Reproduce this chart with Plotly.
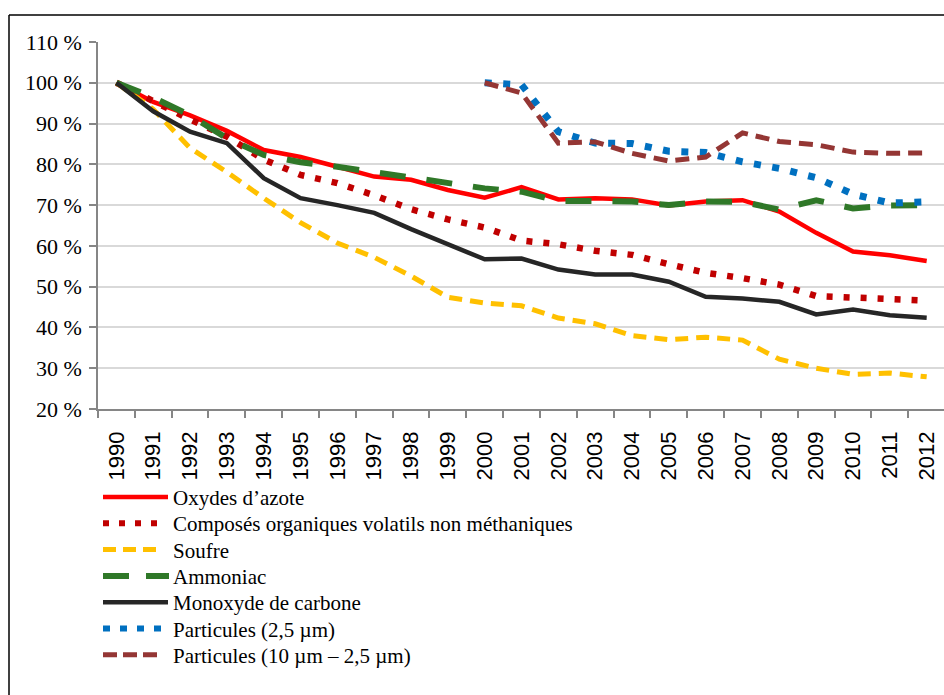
import plotly.graph_objects as go

years = [str(y) for y in range(1990, 2013)]

nox = [100, 95.3, 92.0, 88.2, 83.5, 81.8, 79.4, 77.0, 76.2, 73.7, 71.8, 74.4,
       71.4, 71.7, 71.4, 69.9, 70.9, 71.2, 68.4, 63.2, 58.6, 57.7, 56.3]
covnm = [100, 95.3, 91.0, 86.8, 81.2, 77.4, 75.4, 72.4, 69.0, 66.5, 64.5, 61.3,
         60.4, 58.8, 57.8, 55.5, 53.4, 52.1, 50.5, 47.7, 47.3, 46.7, 46.6]
soufre = [100, 93.5, 84.0, 78.1, 71.7, 65.7, 60.7, 57.2, 52.6, 47.4, 46.0, 45.3,
          42.3, 40.9, 38.0, 37.0, 37.6, 36.9, 32.2, 30.0, 28.5, 28.8, 27.9]
ammoniac = [100, 96.4, 92.0, 86.4, 82.3, 80.5, 79.4, 78.1, 76.7, 75.4, 74.1, 73.3,
            71.0, 71.0, 70.9, 70.0, 70.9, 70.8, 68.9, 71.2, 69.2, 69.9, 70.0]
co = [100, 93.0, 88.0, 85.2, 76.6, 71.7, 70.0, 68.1, 64.1, 60.3, 56.7, 56.9,
      54.2, 53.0, 53.0, 51.2, 47.5, 47.1, 46.3, 43.2, 44.4, 43.0, 42.4]
pm25 = [None] * 10 + [100, 99.5, 88.0, 85.2, 85.1, 83.2, 82.9, 80.6, 79.0, 76.7,
                      72.7, 70.5, 70.8]
pm10 = [None] * 10 + [100, 97.5, 85.2, 85.5, 82.7, 80.8, 81.8, 87.7, 85.6, 84.8,
                      83.0, 82.7, 82.8]

y_ticks = list(range(20, 111, 10))
y_tick_text = [f"{v} %" for v in y_ticks]

names = ["Oxydes d\u2019azote",
         "Compos\u00e9s organiques volatils non m\u00e9thaniques",
         "Soufre", "Ammoniac", "Monoxyde de carbone",
         "Particules (2,5 \u00b5m)", "Particules (10 \u00b5m \u2013 2,5 \u00b5m)"]
series = [nox, covnm, soufre, ammoniac, co, pm25, pm10]
colors = ["#FF0000", "#C00000", "#FFC000", "#2F7828", "#262626", "#0070C0", "#943634"]
widths = [4.5, 6.5, 5, 6, 4.5, 7, 5]
dashes = ["solid", "6px,11px", "13px,8px", "26px,21px", "solid", "7px,11.5px", "14px,8px"]
legend_dashes = ["solid", "6px,10px", "13px,7px", "26px,17px", "solid", "7px,10px", "14px,6px"]
legend_len = [65, 54, 58, 66, 65, 58, 58]

fig = go.Figure()
for n, s, c, w, d in zip(names, series, colors, widths, dashes):
    fig.add_trace(go.Scatter(x=years, y=s, name=n, mode="lines",
                             line=dict(color=c, width=w, dash=d),
                             connectgaps=False, showlegend=False))

W, H = 944, 695
L, R, T, B = 98, 0, 42, 286
pw, ph = W - L - R, H - T - B


def px(x):
    return (x - L) / pw


def py(y):
    return (H - B - y) / ph


shapes = [
    dict(type="line", xref="paper", yref="paper", x0=px(9), x1=px(944),
         y0=py(15), y1=py(15), line=dict(color="black", width=1.5)),
    dict(type="line", xref="paper", yref="paper", x0=px(9), x1=px(9),
         y0=py(15), y1=py(695), line=dict(color="black", width=1.5)),
]
annotations = []
for i, (n, c, w, d, ln) in enumerate(zip(names, colors, widths, legend_dashes, legend_len)):
    yc = 497 + i * 26.3
    shapes.append(dict(type="line", xref="paper", yref="paper",
                       x0=px(103), x1=px(103 + ln), y0=py(yc), y1=py(yc),
                       line=dict(color=c, width=min(w, 6), dash=d)))
    annotations.append(dict(xref="paper", yref="paper", x=px(171), y=py(yc + 1),
                            text=n, showarrow=False, xanchor="left", yanchor="middle",
                            font=dict(family="Liberation Serif", size=21, color="black")))

fig.update_layout(
    width=W, height=H,
    margin=dict(l=L, r=R, t=T, b=B, pad=0),
    paper_bgcolor="white", plot_bgcolor="white",
    font=dict(family="Liberation Serif", color="black"),
    showlegend=False,
    xaxis=dict(type="category", range=[-0.5, 22.47], tickangle=-90,
               tickfont=dict(family="Liberation Sans", size=22, color="black"),
               showgrid=False, showline=True, linecolor="#868686", linewidth=1.5,
               ticks="outside", ticklen=7, tickcolor="#868686", tickwidth=1.5,
               tickson="boundaries", ticklabelstandoff=12),
    yaxis=dict(range=[20, 110], tickvals=y_ticks, ticktext=y_tick_text,
               tickfont=dict(family="Liberation Serif", size=22, color="black"),
               showgrid=True, gridcolor="#d9d9d9", gridwidth=1.5,
               showline=True, linecolor="#868686", linewidth=1.5,
               ticks="outside", ticklen=7, tickcolor="#868686", tickwidth=1.5,
               zeroline=False, ticklabelstandoff=3),
    shapes=shapes,
    annotations=annotations,
)

fig.write_html("out.html",
               config={"displayModeBar": False},
               post_script="document.body.style.margin='0';"
                           "document.body.style.overflow='hidden';")
